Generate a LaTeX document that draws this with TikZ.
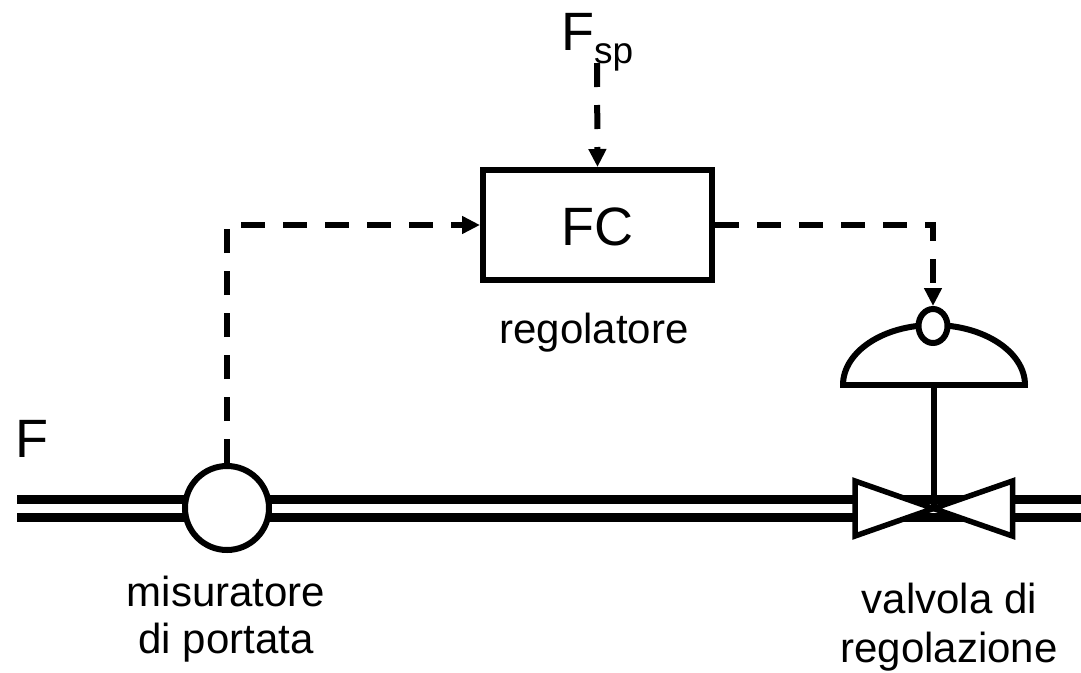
\documentclass[tikz,border=0pt]{standalone}
\usepackage{fontspec}
\setmainfont{Liberation Sans}
\usetikzlibrary{arrows.meta,shapes.geometric}
\tikzset{
  sym/.style={draw=black,line width=6pt,fill=white,inner sep=0pt},
  valvebody/.style={draw=black,line width=5.5pt,fill=white,line join=miter},
  pipe/.style={draw=black,line width=9pt},
  signal/.style={draw=black,line width=6pt,dash pattern=on 24pt off 18pt,-{Triangle[length=18pt,width=17pt]}},
  stem/.style={draw=black,line width=6pt},
  big/.style={font=\fontsize{54}{54}\selectfont,inner sep=0pt},
  sub/.style={font=\fontsize{37}{37}\selectfont,inner sep=0pt},
  lab/.style={font=\fontsize{42}{42}\selectfont,inner sep=0pt}
}
\begin{document}
\begin{tikzpicture}[x=1pt,y=-1pt]
\useasboundingbox (0,0) rectangle (1081,672);
\coordinate (p1a) at (17,499.7); \coordinate (p1b) at (1081,499.7);
\coordinate (p2a) at (17,517.6); \coordinate (p2b) at (1081,517.6);
\draw[pipe] (p1a) -- (p1b);
\draw[pipe] (p2a) -- (p2b);
\node[sym,circle,minimum size=84pt] (meter) at (227,508) {};
\node[sym,rectangle,minimum width=229pt,minimum height=110pt] (fc) at (597.5,225) {};
\node[big,anchor=base] (fctext) at (597.5,245) {FC};
% valve body
\coordinate (vc) at (933.5,508.5);
\draw[valvebody] (855,481) -- (vc) -- (855,536) -- cycle;
\draw[valvebody] (1012.5,481) -- (vc) -- (1012.5,536) -- cycle;
% actuator
\coordinate (dl) at (843,385); \coordinate (dr) at (1025,385);
\coordinate (bl) at (840,385); \coordinate (br) at (1028,385);
\fill[white] (dl) .. controls (843,352) and (883,325) .. (933.5,325) .. controls (984,325) and (1025,352) .. (dr) -- cycle;
\draw[stem] (dl) .. controls (843,352) and (883,325) .. (933.5,325) .. controls (984,325) and (1025,352) .. (dr);
\draw[stem] (bl) -- (br);
\draw[stem] (933.5,385) -- (vc);
\node[sym,ellipse,minimum width=29pt,minimum height=34pt] (pos) at (933,326) {};
% labels
\node[big,anchor=base west] (F) at (15,457) {F};
\node[big,anchor=base west] (Fsp) at (561,50) {F};
\node[sub,anchor=base west] (sp) at (594,63) {sp};
\coordinate (spstart) at (597,63);
\draw[signal] (spstart) -- (fc.north);
\draw[signal] (meter.north) |- (fc.west);
\draw[signal] (fc.east) -| (pos.north);
\node[lab,anchor=base] (reg) at (594,343) {regolatore};
\node[lab,anchor=base] (mis1) at (226,606) {misuratore};
\node[lab,anchor=base] (mis2) at (226,653) {di portata};
\node[lab,anchor=base] (val1) at (949.5,613) {valvola di};
\node[lab,anchor=base] (val2) at (949,662.5) {regolazione};
\end{tikzpicture}
\end{document}
